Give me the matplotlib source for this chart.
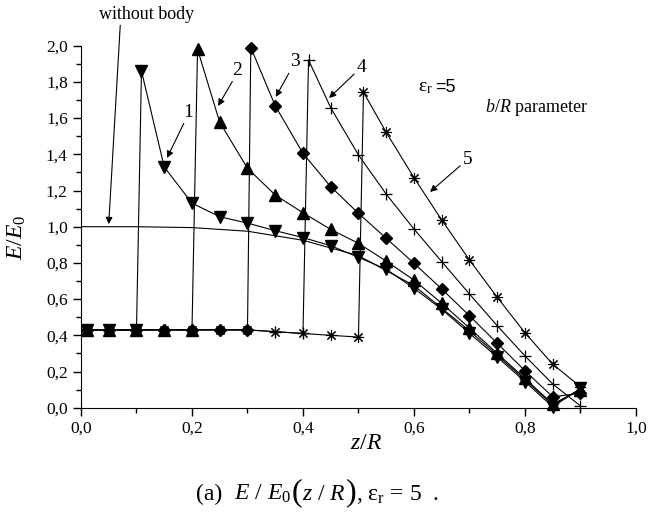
import numpy as np
import matplotlib.pyplot as plt
from matplotlib.ticker import MultipleLocator, FuncFormatter

plt.rcParams['font.family'] = 'Liberation Serif'
plt.rcParams['mathtext.fontset'] = 'custom'
plt.rcParams['mathtext.rm'] = 'Liberation Serif'
plt.rcParams['mathtext.it'] = 'Liberation Serif:italic'

# --- données : E/E0 le long de z/R, paramètre b/R ---
z_in = [0.01, 0.05, 0.10, 0.15, 0.20, 0.25, 0.30, 0.35, 0.40, 0.45, 0.50]
e_in = [0.43, 0.43, 0.43, 0.43, 0.43, 0.43, 0.43, 0.42, 0.41, 0.40, 0.39]

b_vals = [0.1, 0.2, 0.3, 0.4, 0.5]
z_pic = [0.109, 0.21, 0.306, 0.41, 0.509]

# valeurs à l'extérieur du corps (pic, puis de z = b+0.05 jusqu'à 0.9)
e_c1 = [1.86, 1.33, 1.13, 1.055, 1.02, 0.978, 0.94, 0.895, 0.831, 0.765, 0.66, 0.544, 0.411, 0.28, 0.144, 0.005, 0.107]
e_c2 = [1.98, 1.577, 1.323, 1.175, 1.077, 0.985, 0.908, 0.81, 0.705, 0.577, 0.44, 0.30, 0.162, 0.02, 0.10]
e_c3 = [1.99, 1.668, 1.405, 1.221, 1.074, 0.936, 0.798, 0.656, 0.508, 0.356, 0.204, 0.06, 0.08]
e_c4 = [1.921, 1.657, 1.396, 1.18, 0.987, 0.807, 0.628, 0.453, 0.286, 0.131, 0.01]
e_c5 = [1.743, 1.521, 1.271, 1.037, 0.816, 0.61, 0.414, 0.24, 0.116]
courbes_ext = [e_c1, e_c2, e_c3, e_c4, e_c5]

# sans corps
z_libre = [0.0, 0.1, 0.2, 0.3, 0.4, 0.5, 0.6, 0.7, 0.8, 0.85, 0.9]
e_libre = [1.0, 1.0, 0.995, 0.975, 0.925, 0.84, 0.675, 0.425, 0.155, 0.015, 0.10]

marqueurs = [('v', 8, 1.0), ('^', 8, 1.0), ('D', 6.5, 1.0), ('+', 8, 0.9), ((8, 2, 0), 8, 0.8)]

W, H = 650, 517
fig = plt.figure(figsize=(W / 100, H / 100), dpi=100)
ax = fig.add_axes([0.1246, 0.2114, 0.8538, 0.7002])

ax.plot(z_libre, e_libre, color='k', lw=0.8)

for b, zp, e_ext, (m, ms, mew) in zip(b_vals, z_pic, courbes_ext, marqueurs):
    n_in = sum(1 for z in z_in if z <= b + 1e-9)
    z_ext = [zp] + [round(b + 0.05 * (k + 1), 3) for k in range(len(e_ext) - 1)]
    zz = z_in[:n_in] + z_ext
    ee = e_in[:n_in] + e_ext
    ax.plot(zz, ee, color='k', lw=0.8, marker=m, markersize=ms,
            markeredgewidth=mew, clip_on=False)

ax.set_xlim(0, 1.0)
ax.set_ylim(0, 2.0)
ax.xaxis.set_major_locator(MultipleLocator(0.2))
ax.xaxis.set_minor_locator(MultipleLocator(0.1))
ax.yaxis.set_major_locator(MultipleLocator(0.2))
ax.yaxis.set_minor_locator(MultipleLocator(0.1))
virgule = FuncFormatter(lambda v, p: f"{v:.1f}".replace('.', ','))
ax.xaxis.set_major_formatter(virgule)
ax.yaxis.set_major_formatter(virgule)
ax.tick_params(which='major', direction='out', length=6, width=1, labelsize=12.5)
ax.tick_params(which='minor', direction='out', length=3.5, width=1)
ax.spines['top'].set_visible(False)
ax.spines['right'].set_visible(False)

ax.set_ylabel(r'$E/E_0$', fontsize=17)
ax.yaxis.set_label_coords(-0.095, 0.47)
ax.text(0.513, -0.098, r'$z/R$', fontsize=17, ha='center', va='center',
        transform=ax.transAxes)

fleche = dict(arrowstyle='-|>', lw=0.8, color='k', mutation_scale=10,
              shrinkA=0, shrinkB=0)
ax.annotate('without body', xy=(0.05, 1.014), xytext=(0.119, 2.175),
            fontsize=13, ha='center', va='center', annotation_clip=False,
            arrowprops=dict(fleche, relpos=(0.22, 0.0)))
ax.annotate('1', xy=(0.155, 1.38), xytext=(0.193, 1.633), fontsize=14,
            ha='center', va='center', arrowprops=dict(fleche, relpos=(0.2, 0.0)))
ax.annotate('2', xy=(0.247, 1.667), xytext=(0.281, 1.865), fontsize=14,
            ha='center', va='center', arrowprops=dict(fleche, relpos=(0.2, 0.0)))
ax.annotate('3', xy=(0.351, 1.717), xytext=(0.386, 1.91), fontsize=14,
            ha='center', va='center', arrowprops=dict(fleche, relpos=(0.1, 0.1)))
ax.annotate('4', xy=(0.447, 1.711), xytext=(0.506, 1.877), fontsize=14,
            ha='center', va='center', arrowprops=dict(fleche, relpos=(0.0, 0.3)))
ax.annotate('5', xy=(0.629, 1.192), xytext=(0.697, 1.369), fontsize=14,
            ha='center', va='center', arrowprops=dict(fleche, relpos=(0.0, 0.3)))

ax.text(0.607, 1.767, r'ε$_{\mathrm{r}}$', fontsize=14, ha='left', va='center')
ax.text(0.638, 1.767, '=5', fontsize=13, ha='left', va='center', family='Liberation Sans')
ax.text(0.728, 1.656, r'$b/R$ parameter', fontsize=13, ha='left', va='center')

# --- légende de la figure, composée morceau par morceau ---
morceaux = [('(a)  ', 17), (r'$E$ / $E_0$', 17), ('(', 23), (r'$z$ / $R$', 17),
            (')', 23), (r', ε$_{\mathrm{r}}$ = 5  .', 17)]
renderer = fig.canvas.get_renderer()
x_pix = 196
for txt, fs in morceaux:
    t = fig.text(x_pix / W, 1 - 500 / H, txt, fontsize=fs, ha='left', va='baseline')
    x_pix += t.get_window_extent(renderer).width

fig.savefig('out.png', dpi=100)
